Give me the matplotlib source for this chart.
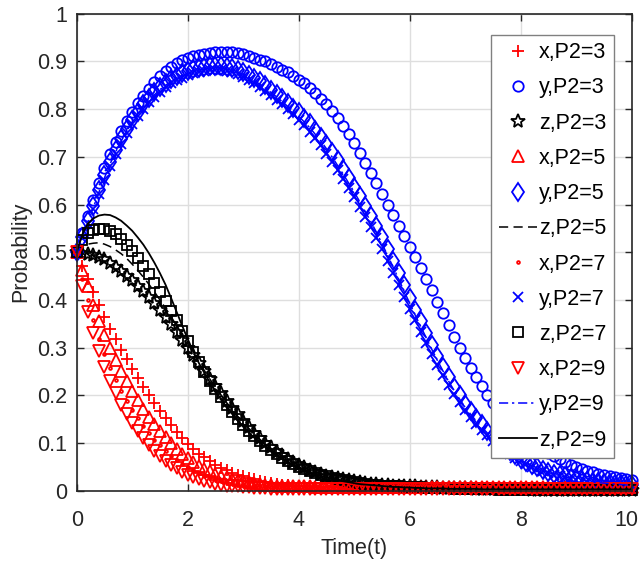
import matplotlib
matplotlib.use("Agg")
import matplotlib.pyplot as plt
import matplotlib.transforms as mtransforms

plt.rcParams['font.family'] = ['Liberation Sans', 'DejaVu Sans']

# time points, 0 .. 10 step 0.1 (rows of ten)
t = [0.0, 0.1, 0.2, 0.3, 0.4, 0.5, 0.6, 0.7, 0.8, 0.9,
     1.0, 1.1, 1.2, 1.3, 1.4, 1.5, 1.6, 1.7, 1.8, 1.9,
     2.0, 2.1, 2.2, 2.3, 2.4, 2.5, 2.6, 2.7, 2.8, 2.9,
     3.0, 3.1, 3.2, 3.3, 3.4, 3.5, 3.6, 3.7, 3.8, 3.9,
     4.0, 4.1, 4.2, 4.3, 4.4, 4.5, 4.6, 4.7, 4.8, 4.9,
     5.0, 5.1, 5.2, 5.3, 5.4, 5.5, 5.6, 5.7, 5.8, 5.9,
     6.0, 6.1, 6.2, 6.3, 6.4, 6.5, 6.6, 6.7, 6.8, 6.9,
     7.0, 7.1, 7.2, 7.3, 7.4, 7.5, 7.6, 7.7, 7.8, 7.9,
     8.0, 8.1, 8.2, 8.3, 8.4, 8.5, 8.6, 8.7, 8.8, 8.9,
     9.0, 9.1, 9.2, 9.3, 9.4, 9.5, 9.6, 9.7, 9.8, 9.9,
     10.0]

# P2 = 3
x3 = [.500, .472, .445, .417, .390, .365, .340, .318, .296, .276,
      .256, .237, .218, .201, .184, .168, .153, .138, .124, .111,
      .099, .088, .078, .070, .062, .055, .048, .043, .038, .034,
      .030, .027, .024, .021, .019, .017, .015, .013, .012, .011,
      .010, .009, .009, .008, .008, .007, .007, .007, .007, .006,
      .006, .006, .006, .006, .006, .006, .006, .006, .006, .005,
      .005, .005, .005, .005, .005, .005, .005, .005, .005, .005,
      .005, .005, .005, .005, .005, .005, .005, .005, .005, .005,
      .005, .005, .005, .005, .005, .005, .005, .005, .005, .005,
      .005, .005, .005, .005, .005, .005, .005, .005, .005, .005,
      .005]
y3 = [.500, .540, .575, .610, .645, .676, .705, .731, .755, .776,
      .795, .812, .828, .843, .857, .869, .880, .889, .897, .903,
      .908, .911, .914, .916, .918, .919, .919, .919, .919, .917,
      .915, .912, .908, .904, .900, .895, .889, .883, .877, .870,
      .862, .854, .845, .834, .822, .810, .797, .782, .765, .748,
      .730, .709, .687, .666, .645, .623, .600, .578, .556, .534,
      .512, .490, .468, .444, .420, .396, .372, .347, .323, .300,
      .278, .257, .238, .219, .200, .185, .171, .158, .145, .133,
      .122, .112, .102, .094, .086, .079, .073, .067, .061, .055,
      .050, .046, .042, .039, .036, .033, .031, .029, .027, .025,
      .023]
z3 = [.500, .499, .497, .494, .490, .485, .478, .470, .461, .451,
      .441, .430, .418, .406, .393, .379, .364, .349, .333, .317,
      .300, .284, .267, .251, .235, .219, .204, .189, .174, .160,
      .147, .134, .122, .111, .100, .091, .082, .074, .067, .060,
      .054, .049, .044, .040, .036, .032, .029, .026, .024, .022,
      .020, .018, .017, .015, .014, .013, .012, .011, .010, .010,
      .009, .009, .008, .008, .007, .007, .006, .006, .005, .005,
      .005, .005, .004, .004, .004, .004, .003, .003, .003, .003,
      .003, .003, .002, .002, .002, .002, .002, .002, .002, .002,
      .002, .002, .001, .001, .001, .001, .001, .001, .001, .001,
      .001]

# P2 = 5
x5 = [.500, .463, .430, .390, .355, .326, .300, .275, .252, .230,
      .210, .190, .172, .155, .140, .125, .112, .100, .088, .078,
      .068, .060, .052, .046, .041, .036, .032, .028, .025, .022,
      .020, .018, .016, .014, .013, .012, .011, .010, .010, .009,
      .009, .009, .009, .008, .008, .008, .008, .008, .008, .008,
      .008, .008, .008, .008, .007, .007, .007, .007, .007, .007,
      .007, .007, .007, .007, .007, .007, .007, .007, .007, .007,
      .007, .007, .007, .007, .007, .007, .007, .007, .007, .007,
      .007, .007, .007, .007, .007, .007, .007, .007, .007, .007,
      .007, .007, .007, .007, .007, .007, .007, .007, .007, .007,
      .007]
y5 = [.500, .533, .565, .598, .630, .661, .690, .715, .738, .759,
      .778, .795, .810, .823, .835, .846, .855, .863, .870, .875,
      .880, .884, .887, .889, .891, .891, .891, .889, .887, .883,
      .878, .872, .866, .858, .850, .841, .832, .823, .813, .803,
      .793, .782, .770, .756, .742, .726, .710, .693, .675, .656,
      .637, .617, .597, .576, .555, .531, .507, .482, .457, .431,
      .405, .380, .355, .330, .306, .283, .260, .239, .218, .200,
      .182, .167, .152, .139, .126, .114, .103, .093, .083, .075,
      .067, .060, .054, .049, .044, .040, .036, .033, .030, .027,
      .025, .023, .021, .019, .018, .017, .016, .015, .014, .013,
      .012]
z5 = [.500, .510, .517, .519, .520, .517, .512, .505, .497, .487,
      .475, .462, .448, .433, .417, .400, .383, .365, .346, .327,
      .308, .289, .270, .252, .234, .217, .201, .185, .170, .156,
      .143, .131, .119, .108, .098, .089, .080, .072, .065, .059,
      .053, .048, .043, .039, .035, .031, .028, .025, .023, .021,
      .019, .017, .016, .014, .013, .012, .011, .010, .009, .009,
      .008, .008, .007, .007, .006, .006, .005, .005, .005, .005,
      .004, .004, .004, .004, .003, .003, .003, .003, .003, .003,
      .003, .002, .002, .002, .002, .002, .002, .002, .002, .002,
      .001, .001, .001, .001, .001, .001, .001, .001, .001, .001,
      .001]

# P2 = 7
x7 = [.500, .445, .400, .357, .318, .286, .258, .233, .210, .189,
      .170, .152, .136, .121, .107, .095, .083, .073, .064, .056,
      .049, .043, .037, .032, .028, .024, .021, .018, .016, .014,
      .012, .011, .010, .009, .008, .007, .007, .006, .006, .005,
      .005, .005, .005, .005, .005, .005, .004, .004, .004, .004,
      .004, .004, .004, .004, .004, .004, .004, .004, .004, .004,
      .004, .004, .004, .004, .004, .004, .004, .004, .004, .004,
      .004, .004, .004, .004, .004, .004, .004, .004, .004, .004,
      .004, .004, .004, .004, .004, .004, .004, .004, .004, .004,
      .004, .004, .004, .004, .004, .004, .004, .004, .004, .004,
      .004]
y7 = [.500, .530, .560, .591, .622, .652, .680, .705, .728, .749,
      .768, .785, .800, .814, .826, .837, .846, .854, .861, .866,
      .871, .875, .878, .880, .882, .882, .882, .880, .877, .873,
      .868, .862, .855, .847, .839, .830, .820, .810, .800, .789,
      .778, .766, .753, .739, .724, .707, .690, .672, .654, .635,
      .615, .595, .574, .552, .530, .506, .482, .457, .432, .407,
      .382, .357, .333, .309, .286, .264, .242, .222, .203, .186,
      .169, .155, .141, .128, .116, .105, .095, .086, .077, .069,
      .062, .056, .050, .045, .041, .037, .034, .031, .028, .025,
      .023, .021, .019, .017, .016, .015, .014, .013, .012, .011,
      .011]
z7 = [.500, .525, .540, .546, .549, .548, .545, .538, .528, .516,
      .503, .488, .472, .455, .436, .417, .397, .377, .357, .335,
      .313, .291, .270, .250, .231, .213, .196, .180, .165, .151,
      .138, .126, .114, .104, .094, .085, .077, .069, .062, .056,
      .050, .045, .041, .037, .033, .030, .027, .024, .022, .020,
      .018, .016, .015, .013, .012, .011, .010, .010, .009, .008,
      .008, .007, .007, .006, .006, .005, .005, .005, .004, .004,
      .004, .003, .003, .003, .003, .003, .002, .002, .002, .002,
      .002, .002, .002, .002, .002, .001, .001, .001, .001, .001,
      .001, .001, .001, .001, .001, .001, .001, .001, .001, .001,
      .001]

# P2 = 9
x9 = [.500, .430, .375, .330, .292, .259, .230, .204, .180, .160,
      .142, .125, .110, .096, .084, .073, .063, .055, .047, .040,
      .034, .029, .025, .021, .018, .015, .013, .011, .010, .009,
      .008, .007, .006, .005, .005, .004, .004, .004, .004, .003,
      .003, .003, .003, .003, .003, .003, .003, .003, .003, .003,
      .003, .003, .003, .003, .003, .003, .003, .003, .003, .003,
      .003, .003, .003, .003, .003, .003, .003, .003, .003, .003,
      .003, .003, .003, .003, .003, .003, .003, .003, .003, .003,
      .003, .003, .003, .003, .003, .003, .003, .003, .003, .003,
      .003, .003, .003, .003, .003, .003, .003, .003, .003, .003,
      .003]
y9 = [.500, .531, .562, .594, .626, .656, .685, .710, .733, .754,
      .773, .790, .805, .818, .830, .841, .850, .858, .865, .870,
      .875, .879, .882, .884, .886, .886, .886, .884, .882, .878,
      .873, .867, .860, .852, .844, .835, .826, .816, .806, .796,
      .785, .773, .761, .747, .733, .717, .700, .682, .664, .645,
      .626, .606, .585, .564, .542, .518, .494, .469, .444, .418,
      .393, .368, .344, .320, .296, .273, .251, .230, .210, .192,
      .175, .160, .146, .133, .121, .110, .099, .089, .080, .072,
      .064, .058, .052, .047, .042, .038, .035, .032, .029, .026,
      .024, .022, .020, .018, .017, .016, .015, .014, .013, .012,
      .011]
z9 = [.500, .537, .560, .571, .577, .579, .578, .573, .566, .556,
      .545, .531, .516, .498, .478, .456, .432, .404, .375, .346,
      .318, .292, .268, .247, .227, .209, .192, .176, .161, .147,
      .134, .122, .111, .101, .091, .082, .074, .067, .060, .054,
      .048, .043, .039, .035, .031, .028, .025, .022, .020, .018,
      .016, .014, .013, .012, .011, .010, .009, .008, .008, .007,
      .007, .006, .006, .005, .005, .005, .005, .004, .004, .004,
      .004, .004, .004, .003, .003, .003, .003, .003, .003, .003,
      .003, .003, .003, .003, .003, .003, .003, .003, .003, .003,
      .003, .003, .003, .003, .003, .003, .003, .003, .003, .003,
      .003]

xTicks = [0, 2, 4, 6, 8, 10]
yTicks = [0, 0.1, 0.2, 0.3, 0.4, 0.5, 0.6, 0.7, 0.8, 0.9, 1]
yTickLabels = ['0', '0.1', '0.2', '0.3', '0.4', '0.5', '0.6', '0.7', '0.8', '0.9', '1']

fig = plt.figure(figsize=(6.41, 5.66), dpi=100)
ax = fig.add_axes([0.1197, 0.1329, 0.8658, 0.8428])

mk = dict(linestyle='none', markerfacecolor='none', markeredgewidth=1.3, clip_on=False)
ax.plot(t, x3, marker='+', color='red', markersize=9, label='x,P2=3', **mk)
ax.plot(t, y3, marker='o', color='blue', markersize=7.5, label='y,P2=3', **mk)
ax.plot(t, z3, marker='*', color='black', markersize=10, label='z,P2=3', **mk)
ax.plot(t, x5, marker='^', color='red', markersize=9, label='x,P2=5', **mk)
ax.plot(t, y5, marker='d', color='blue', markersize=9.5, label='y,P2=5', **mk)
ax.plot(t, z5, color='black', linewidth=1.1, dashes=(6, 3.5), label='z,P2=5', clip_on=False)
ax.plot(t, x7, marker='.', color='red', markersize=4, label='x,P2=7', **mk)
ax.plot(t, y7, marker='x', color='blue', markersize=7, label='y,P2=7', **mk)
ax.plot(t, z7, marker='s', color='black', markersize=7, label='z,P2=7', **mk)
ax.plot(t, x9, marker='v', color='red', markersize=9, label='x,P2=9', **mk)
ax.plot(t, y9, color='blue', linewidth=1.1, dashes=(6, 2.5, 1.5, 2.5), label='y,P2=9', clip_on=False)
ax.plot(t, z9, color='black', linewidth=1.3, label='z,P2=9', clip_on=False)

ax.set_xlim(0, 10)
ax.set_ylim(0, 1)
ax.set_xticks(xTicks)
ax.set_yticks(yTicks)
ax.set_yticklabels(yTickLabels)
ax.grid(True, color='#dedede', linewidth=1.0)
ax.set_axisbelow(True)
ax.tick_params(direction='in', top=True, right=True, length=5, width=1.0,
               labelsize=15.5, labelcolor='#262626', color='#262626')
ax.tick_params(axis='x', pad=14)
ax.tick_params(axis='y', pad=7)
for s in ax.spines.values():
    s.set_linewidth(1.2)
    s.set_color('#262626')

# keep the "10" label inside the picture
lastLabel = ax.get_xticklabels()[-1]
lastLabel.set_transform(lastLabel.get_transform() +
                        mtransforms.ScaledTranslation(-5 / 100, 0, fig.dpi_scale_trans))

ax.set_xlabel('Time(t)', fontsize=15.5, color='#262626', labelpad=5)
ax.set_ylabel('Probability', fontsize=15.5, color='#262626', labelpad=4)

leg = ax.legend(loc='upper right', bbox_to_anchor=(0.968, 0.956), borderaxespad=0,
                fontsize=15.5, handlelength=1.77, handletextpad=0.1,
                labelspacing=0.66, borderpad=0.35, fancybox=False, framealpha=1,
                edgecolor='#808080')
leg.get_frame().set_linewidth(1.0)

fig.savefig('out.png', dpi=100)
